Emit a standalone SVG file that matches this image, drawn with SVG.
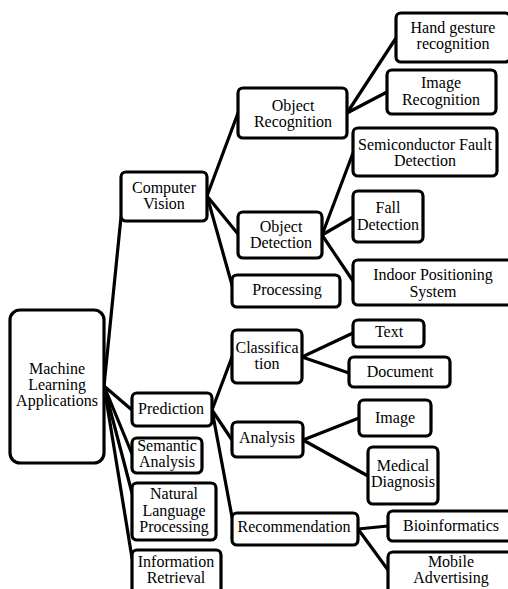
<svg xmlns="http://www.w3.org/2000/svg" width="508" height="589" viewBox="0 0 508 589">
<style>
.b{fill:#fff;stroke:#000;stroke-width:3.2}
.t{font-family:"Liberation Serif","Times New Roman",serif;font-size:16px;fill:#000;text-anchor:middle}
.c line{stroke:#000;stroke-width:3.2;stroke-linecap:round}
</style>
<rect width="508" height="589" fill="#fff"/>
<g id="connectors" class="c">
<line x1="104" y1="386" x2="121" y2="217"/>
<line x1="104" y1="386" x2="132" y2="410"/>
<line x1="104" y1="386" x2="132" y2="454"/>
<line x1="104" y1="386" x2="132" y2="493"/>
<line x1="104" y1="386" x2="132" y2="558"/>
<line x1="207" y1="196" x2="238" y2="113"/>
<line x1="207" y1="196" x2="238" y2="234"/>
<line x1="207" y1="196" x2="232" y2="285"/>
<line x1="347" y1="113" x2="396" y2="38"/>
<line x1="347" y1="113" x2="387" y2="92"/>
<line x1="322" y1="235" x2="353" y2="153"/>
<line x1="322" y1="235" x2="353" y2="217"/>
<line x1="322" y1="235" x2="353" y2="281"/>
<line x1="212" y1="410" x2="232" y2="357"/>
<line x1="212" y1="410" x2="232" y2="440"/>
<line x1="212" y1="410" x2="232" y2="517"/>
<line x1="302" y1="357" x2="353" y2="333"/>
<line x1="302" y1="357" x2="349" y2="373"/>
<line x1="303" y1="440" x2="359" y2="418"/>
<line x1="303" y1="440" x2="368" y2="476"/>
<line x1="358" y1="529" x2="388" y2="526"/>
<line x1="358" y1="529" x2="388" y2="570"/>
</g>
<g id="ml"><rect class="b" x="10" y="310" width="94" height="153" rx="10"/><text class="t" x="57" y="374">Machine</text><text class="t" x="57" y="390">Learning</text><text class="t" x="57" y="406">Applications</text></g>
<g id="cv"><rect class="b" x="121" y="172" width="86" height="49" rx="5"/><text class="t" x="164" y="193">Computer</text><text class="t" x="164" y="209">Vision</text></g>
<g id="objrec"><rect class="b" x="238" y="88" width="109" height="50" rx="5"/><text class="t" x="293" y="111">Object</text><text class="t" x="293" y="127">Recognition</text></g>
<g id="hand"><rect class="b" x="396" y="13" width="114" height="49" rx="5"/><text class="t" x="453" y="33">Hand gesture</text><text class="t" x="453" y="49">recognition</text></g>
<g id="imgrec"><rect class="b" x="387" y="70" width="109" height="44" rx="5"/><text class="t" x="441" y="88">Image</text><text class="t" x="441" y="105">Recognition</text></g>
<g id="semi"><rect class="b" x="353" y="128" width="144" height="48" rx="5"/><text class="t" x="425" y="150">Semiconductor Fault</text><text class="t" x="425" y="166">Detection</text></g>
<g id="fall"><rect class="b" x="353" y="191" width="70" height="51" rx="5"/><text class="t" x="388" y="213">Fall</text><text class="t" x="388" y="230">Detection</text></g>
<g id="objdet"><rect class="b" x="238" y="212" width="84" height="46" rx="5"/><text class="t" x="281" y="232">Object</text><text class="t" x="281" y="248">Detection</text></g>
<g id="indoor"><rect class="b" x="353" y="260" width="160" height="45" rx="5"/><text class="t" x="433" y="280">Indoor Positioning</text><text class="t" x="433" y="297">System</text></g>
<g id="proc"><rect class="b" x="232" y="275" width="108" height="32" rx="5"/><text class="t" x="287" y="295">Processing</text></g>
<g id="pred"><rect class="b" x="132" y="393" width="80" height="33" rx="5"/><text class="t" x="171" y="414">Prediction</text></g>
<g id="sem"><rect class="b" x="132" y="438" width="70" height="35" rx="5"/><text class="t" x="167" y="451">Semantic</text><text class="t" x="167" y="467">Analysis</text></g>
<g id="nlp"><rect class="b" x="132" y="483" width="84" height="57" rx="5"/><text class="t" x="174" y="499">Natural</text><text class="t" x="174" y="516">Language</text><text class="t" x="174" y="532">Processing</text></g>
<g id="ir"><rect class="b" x="132" y="550" width="89" height="50" rx="5"/><text class="t" x="176" y="567">Information</text><text class="t" x="176" y="583">Retrieval</text></g>
<g id="class"><rect class="b" x="232" y="330" width="70" height="53" rx="5"/><text class="t" x="267" y="353">Classifica</text><text class="t" x="267" y="369">tion</text></g>
<g id="text"><rect class="b" x="353" y="320" width="71" height="27" rx="5"/><text class="t" x="389" y="337">Text</text></g>
<g id="doc"><rect class="b" x="349" y="357" width="101" height="30" rx="5"/><text class="t" x="400" y="377">Document</text></g>
<g id="analysis"><rect class="b" x="232" y="422" width="71" height="35" rx="5"/><text class="t" x="267" y="443">Analysis</text></g>
<g id="image"><rect class="b" x="359" y="400" width="72" height="36" rx="5"/><text class="t" x="395" y="423">Image</text></g>
<g id="med"><rect class="b" x="368" y="447" width="70" height="57" rx="5"/><text class="t" x="403" y="471">Medical</text><text class="t" x="403" y="487">Diagnosis</text></g>
<g id="rec"><rect class="b" x="232" y="513" width="126" height="32" rx="5"/><text class="t" x="294" y="532">Recommendation</text></g>
<g id="bio"><rect class="b" x="388" y="511" width="126" height="30" rx="5"/><text class="t" x="451" y="531">Bioinformatics</text></g>
<g id="mobile"><rect class="b" x="388" y="552" width="126" height="50" rx="5"/><text class="t" x="451" y="567">Mobile</text><text class="t" x="451" y="583">Advertising</text></g>
</svg>
